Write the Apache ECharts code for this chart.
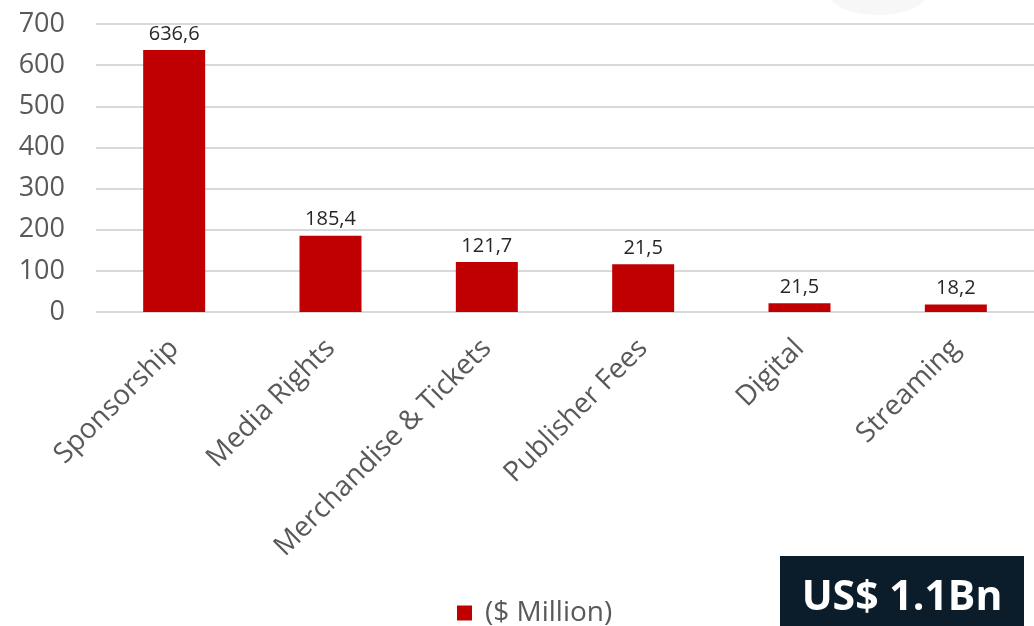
<!DOCTYPE html>
<html><head><meta charset="utf-8">
<script src="https://cdn.jsdelivr.net/npm/echarts@6/dist/echarts.min.js"></script>
<style>html,body{margin:0;padding:0;background:#fff}#c{width:1034px;height:626px}</style>
</head><body><div id="c"></div>
<script>
const categories = ["Sponsorship","Media Rights","Merchandise & Tickets","Publisher Fees","Digital","Streaming"];
const values = [636.6, 185.4, 121.7, 116, 21.5, 18.2];
const valueLabels = ["636,6","185,4","121,7","21,5","21,5","18,2"];
const seriesName = "($ Million)";
const totalText = "US$ 1.1Bn";
const font = "'Open Sans', sans-serif";

const chart = echarts.init(document.getElementById('c'));
chart.setOption({
  animation:false,
  grid:{left:96, top:24, width:948, height:288, containLabel:false},
  legend:{
    data:[seriesName], left:452, top:594, itemWidth:15, itemHeight:15,
    icon:'rect', textStyle:{fontFamily:font, fontSize:28, color:'#595959', padding:[0,0,0,8]}
  },
  xAxis:{
    type:'category', data:categories,
    axisLine:{show:false}, axisTick:{show:false},
    axisLabel:{rotate:45, margin:32, fontFamily:font, fontSize:28, color:'#595959', interval:0}
  },
  yAxis:{
    type:'value', min:0, max:700, interval:100,
    axisLine:{show:false}, axisTick:{show:false},
    splitLine:{lineStyle:{color:'#d9d9d9', width:2}},
    axisLabel:{margin:31, fontFamily:font, fontSize:27, color:'#595959'}
  },
  series:[{
    name:seriesName, type:'bar', data:values, barWidth:62,
    itemStyle:{color:'#c00000'},
    label:{show:true, position:'top', distance:6, fontFamily:font, fontSize:20, color:'#262626',
      formatter:p=>valueLabels[p.dataIndex]}
  }],
  graphic:[
    {type:'ellipse', shape:{cx:878, cy:-5, rx:48, ry:20}, style:{fill:'#f7f7f7'}, z:-1},
    {type:'rect', shape:{x:780, y:556, width:244, height:70}, style:{fill:'#0b1c2b'}},
    {type:'text', x:902, y:598, style:{text:totalText, fill:'#fff', font:"bold 41px 'Open Sans', sans-serif", textAlign:'center', textVerticalAlign:'middle'}}
  ]
});
</script></body></html>
